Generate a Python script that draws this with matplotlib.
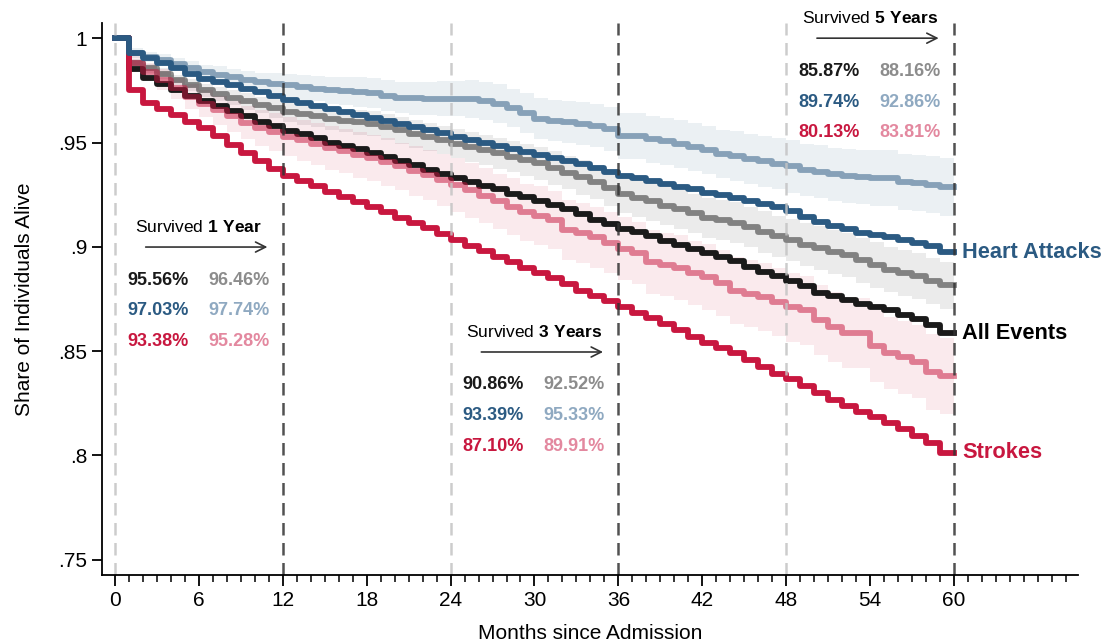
import matplotlib
matplotlib.use("Agg")
import matplotlib.pyplot as plt

plt.rcParams['font.family'] = ['Liberation Sans', 'DejaVu Sans']
plt.rcParams['mathtext.fontset'] = 'custom'
plt.rcParams['mathtext.rm'] = 'Liberation Sans'
plt.rcParams['mathtext.bf'] = 'Liberation Sans:bold'

# months since admission, 0..60
months = list(range(61))

# survival curves (one value per month)
all_events = [1.000, 0.985, 0.981, 0.978, 0.975, 0.9725, 0.970, 0.9675, 0.965, 0.9625,
              0.960, 0.958, 0.9556, 0.954, 0.952, 0.950, 0.9485, 0.947, 0.945, 0.943,
              0.941, 0.939, 0.937, 0.935, 0.933, 0.931, 0.929, 0.9275, 0.9255, 0.924,
              0.922, 0.920, 0.918, 0.9155, 0.913, 0.911, 0.9086, 0.907, 0.905, 0.903,
              0.901, 0.899, 0.897, 0.895, 0.893, 0.8905, 0.888, 0.886, 0.8838, 0.881,
              0.878, 0.8765, 0.8745, 0.8725, 0.8712, 0.8695, 0.8675, 0.8655, 0.8625, 0.8587,
              0.8587]
all_events_cmp = [1.000, 0.988, 0.9855, 0.983, 0.980, 0.9775, 0.975, 0.9732, 0.9715, 0.9697,
                  0.968, 0.9663, 0.9646, 0.9635, 0.9625, 0.9615, 0.9605, 0.9597, 0.959, 0.9575,
                  0.9558, 0.9542, 0.9527, 0.9512, 0.9495, 0.948, 0.9465, 0.9448, 0.9432, 0.9417,
                  0.940, 0.9378, 0.9355, 0.9333, 0.931, 0.928, 0.9252, 0.9235, 0.9218, 0.9198,
                  0.918, 0.916, 0.914, 0.9128, 0.9115, 0.9095, 0.907, 0.905, 0.9033, 0.901,
                  0.8995, 0.8975, 0.896, 0.8935, 0.8913, 0.889, 0.8875, 0.886, 0.8835, 0.8816,
                  0.8816]
heart = [1.000, 0.993, 0.9905, 0.988, 0.9855, 0.983, 0.9805, 0.979, 0.9775, 0.9758,
         0.974, 0.9722, 0.9703, 0.969, 0.9675, 0.966, 0.9645, 0.9632, 0.9618, 0.9603,
         0.959, 0.9575, 0.956, 0.9545, 0.9525, 0.951, 0.9498, 0.9483, 0.947, 0.9455,
         0.944, 0.9425, 0.941, 0.9395, 0.9378, 0.936, 0.9339, 0.9328, 0.9315, 0.930,
         0.9288, 0.9275, 0.926, 0.9248, 0.9235, 0.922, 0.9205, 0.919, 0.917, 0.9145,
         0.912, 0.910, 0.9085, 0.9068, 0.9057, 0.9045, 0.9033, 0.902, 0.9005, 0.8974,
         0.8974]
heart_cmp = [1.000, 0.993, 0.991, 0.9895, 0.9875, 0.9855, 0.9837, 0.9825, 0.9812, 0.980,
             0.979, 0.9782, 0.9774, 0.9765, 0.9758, 0.975, 0.9747, 0.9742, 0.9737, 0.9725,
             0.9715, 0.9712, 0.971, 0.971, 0.971, 0.9708, 0.970, 0.9685, 0.9665, 0.964,
             0.9615, 0.9605, 0.9598, 0.959, 0.958, 0.9565, 0.9533, 0.953, 0.9515, 0.9505,
             0.9495, 0.948, 0.9464, 0.9445, 0.9435, 0.942, 0.941, 0.9398, 0.9385, 0.937,
             0.936, 0.9348, 0.934, 0.9333, 0.933, 0.933, 0.931, 0.9305, 0.9298, 0.9286,
             0.9286]
strokes = [1.000, 0.975, 0.969, 0.966, 0.963, 0.960, 0.957, 0.953, 0.949, 0.945,
           0.941, 0.9375, 0.9338, 0.9315, 0.929, 0.9265, 0.924, 0.9215, 0.919, 0.9165,
           0.914, 0.9115, 0.909, 0.906, 0.9033, 0.9005, 0.8978, 0.8952, 0.8925, 0.890,
           0.8875, 0.885, 0.882, 0.879, 0.8765, 0.874, 0.871, 0.8685, 0.866, 0.863,
           0.860, 0.857, 0.854, 0.8515, 0.849, 0.846, 0.8425, 0.839, 0.8365, 0.8335,
           0.830, 0.8265, 0.8235, 0.821, 0.8185, 0.8155, 0.8125, 0.8095, 0.806, 0.8013,
           0.8013]
strokes_cmp = [1.000, 0.988, 0.984, 0.980, 0.976, 0.972, 0.9685, 0.9655, 0.9625, 0.9595,
               0.957, 0.955, 0.9528, 0.951, 0.9492, 0.9475, 0.9458, 0.9442, 0.9425, 0.9405,
               0.9385, 0.9365, 0.9345, 0.932, 0.9296, 0.927, 0.9245, 0.9218, 0.9192, 0.9165,
               0.915, 0.9128, 0.908, 0.9065, 0.9045, 0.902, 0.8991, 0.897, 0.8927, 0.8915,
               0.890, 0.8875, 0.8855, 0.8827, 0.879, 0.8775, 0.876, 0.8736, 0.871, 0.8695,
               0.865, 0.8616, 0.8587, 0.8587, 0.8525, 0.849, 0.847, 0.845, 0.840, 0.8381,
               0.8381]

# half widths of the shaded bands around the comparison curves
band_heart = [0.000, 0.0025, 0.0025, 0.003, 0.003, 0.0035, 0.0035, 0.004, 0.004, 0.0045,
              0.0045, 0.005, 0.0055, 0.006, 0.006, 0.0065, 0.0065, 0.007, 0.007, 0.0075,
              0.0075, 0.008, 0.008, 0.0085, 0.0085, 0.009, 0.009, 0.0093, 0.0093, 0.0096,
              0.0096, 0.010, 0.010, 0.0103, 0.0103, 0.0106, 0.011, 0.011, 0.0112, 0.0112,
              0.0115, 0.0115, 0.0117, 0.0117, 0.012, 0.012, 0.0122, 0.0122, 0.0125, 0.0125,
              0.0127, 0.0127, 0.013, 0.013, 0.0132, 0.0132, 0.0135, 0.0135, 0.0138, 0.014,
              0.014]
band_all = [0.000, 0.002, 0.002, 0.0025, 0.0025, 0.003, 0.003, 0.0035, 0.0035, 0.004,
            0.004, 0.0045, 0.0048, 0.005, 0.005, 0.0055, 0.0055, 0.006, 0.006, 0.0063,
            0.0063, 0.0066, 0.0066, 0.0068, 0.007, 0.0072, 0.0072, 0.0075, 0.0075, 0.0078,
            0.0078, 0.008, 0.008, 0.0083, 0.0083, 0.0086, 0.009, 0.009, 0.0092, 0.0092,
            0.0094, 0.0094, 0.0096, 0.0096, 0.0098, 0.0098, 0.010, 0.010, 0.0102, 0.0102,
            0.0104, 0.0104, 0.0106, 0.0106, 0.0108, 0.0108, 0.011, 0.011, 0.011, 0.0112,
            0.0112]
band_strokes = [0.000, 0.004, 0.004, 0.005, 0.005, 0.006, 0.0065, 0.007, 0.0075, 0.008,
                0.0085, 0.009, 0.0095, 0.010, 0.010, 0.0105, 0.0105, 0.011, 0.011, 0.0115,
                0.0115, 0.012, 0.012, 0.0125, 0.013, 0.013, 0.0133, 0.0133, 0.0136, 0.0136,
                0.014, 0.014, 0.0143, 0.0143, 0.0146, 0.0146, 0.015, 0.015, 0.0152, 0.0152,
                0.0155, 0.0155, 0.0158, 0.0158, 0.016, 0.016, 0.0163, 0.0163, 0.0166, 0.0166,
                0.0168, 0.0168, 0.017, 0.017, 0.0173, 0.0173, 0.0176, 0.0176, 0.018, 0.018,
                0.018]

# annotation tables
year_marks = [12, 36, 60]
year_titles = ['1\\ Year', '3\\ Years', '5\\ Years']
table_y = [0.8999, 0.8496, 1.0]
tbl_all = [('95.56%', '96.46%'), ('90.86%', '92.52%'), ('85.87%', '88.16%')]
tbl_heart = [('97.03%', '97.74%'), ('93.39%', '95.33%'), ('89.74%', '92.86%')]
tbl_strokes = [('93.38%', '95.28%'), ('87.10%', '89.91%'), ('80.13%', '83.81%')]

yticks = [0.75, 0.80, 0.85, 0.90, 0.95, 1.0]
ytick_labels = ['.75', '.8', '.85', '.9', '.95', '1']
xticks = list(range(0, 61, 6))

c_black = '#1a1a1a'
c_blue = '#2b5a82'
c_red = '#c8173f'

fig = plt.figure(figsize=(11.05, 6.43), dpi=100)
ax = fig.add_axes([0.092, 0.106, 0.884, 0.858])

# bands
for y, hw, col, a in [(heart_cmp, band_heart, c_blue, 0.09),
                      (all_events_cmp, band_all, 'black', 0.08),
                      (strokes_cmp, band_strokes, c_red, 0.09)]:
    lo = [v - h for v, h in zip(y, hw)]
    hi = [v + h for v, h in zip(y, hw)]
    ax.fill_between(months, lo, hi, step='post', color=col, alpha=a, lw=0)

# curves
lw = 4.2
ax.plot(months, all_events, drawstyle='steps-post', color=c_black, lw=lw)
ax.plot(months, all_events_cmp, drawstyle='steps-post', color=c_black, lw=lw, alpha=0.5)
ax.plot(months, strokes, drawstyle='steps-post', color=c_red, lw=lw)
ax.plot(months, strokes_cmp, drawstyle='steps-post', color=c_red, lw=lw, alpha=0.52)
ax.plot(months, heart, drawstyle='steps-post', color=c_blue, lw=lw)
ax.plot(months, heart_cmp, drawstyle='steps-post', color=c_blue, lw=lw, alpha=0.52)

# reference lines
for m in [0, 24, 48]:
    ax.axvline(m, color='#c4c4c4', lw=1.8, ls=(0, (5, 3)), alpha=0.85)
for m in year_marks:
    ax.axvline(m, color='#333333', lw=1.8, ls=(0, (5, 3)), alpha=0.85)

# tables
for i, m in enumerate(year_marks):
    ya = table_y[i]
    ax.text(m - 6.0, ya + 0.0096, 'Survived $\\mathbf{' + year_titles[i] + '}$',
            ha='center', va='center', fontsize=12.5, color='black', clip_on=False)
    ax.annotate('', xy=(m - 0.9, ya), xytext=(m - 10.0, ya),
                arrowprops=dict(arrowstyle='->', color='#333333', lw=1.2,
                                mutation_scale=18), annotation_clip=False)
    rows = [(tbl_all[i], c_black, '#8c8c8c'),
            (tbl_heart[i], c_blue, '#8fa9c1'),
            (tbl_strokes[i], c_red, '#e3889f')]
    for j, (vals, c1, c2) in enumerate(rows):
        yy = ya - 0.0158 - j * 0.0148
        ax.text(m - 6.75, yy, vals[0], ha='right', va='center', fontsize=13,
                fontweight='bold', color=c1)
        ax.text(m - 0.95, yy, vals[1], ha='right', va='center', fontsize=13,
                fontweight='bold', color=c2)

# series labels
ax.text(60.6, heart[-1], 'Heart Attacks', ha='left', va='center', fontsize=15.7,
        fontweight='bold', color=c_blue, clip_on=False)
ax.text(60.6, all_events[-1], 'All Events', ha='left', va='center', fontsize=15.7,
        fontweight='bold', color='black', clip_on=False)
ax.text(60.6, strokes[-1], 'Strokes', ha='left', va='center', fontsize=15.7,
        fontweight='bold', color=c_red, clip_on=False)

ax.set_xlim(-0.95, 68.9)
ax.set_ylim(0.7428, 1.0072)
ax.set_xticks(xticks)
ax.set_xticks(range(0, 69), minor=True)
ax.set_yticks(yticks)
ax.set_yticklabels(ytick_labels)
ax.tick_params(axis='both', labelsize=15, width=1.3, color='black')
ax.tick_params(axis='x', which='major', length=8)
ax.tick_params(axis='x', which='minor', length=5, width=1.1)
ax.tick_params(axis='y', length=7)
for s in ['top', 'right']:
    ax.spines[s].set_visible(False)
for s in ['left', 'bottom']:
    ax.spines[s].set_linewidth(1.3)
ax.set_xlabel('Months since Admission', fontsize=15, labelpad=10)
ax.set_ylabel('Share of Individuals Alive', fontsize=15, labelpad=17)

fig.savefig('out.png', dpi=100)
